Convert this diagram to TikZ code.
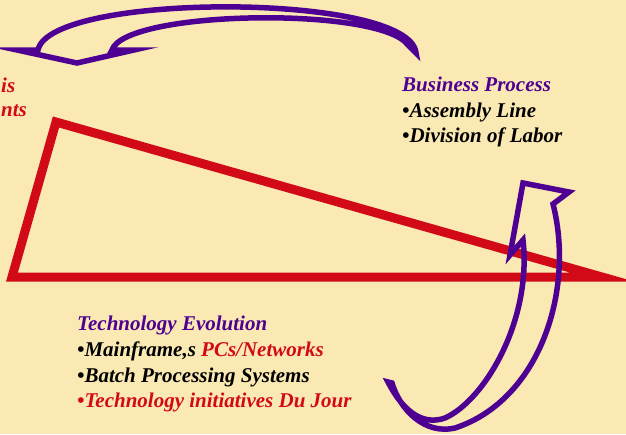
\documentclass[tikz,border=0pt]{standalone}
\usepackage{fontspec}
\setmainfont{Liberation Serif}
\usepackage{tikz}
\usepackage{xcolor}

\definecolor{paper}{RGB}{251,233,180}
\definecolor{wedgered}{RGB}{210,10,24}
\definecolor{arrowpurple}{RGB}{78,0,146}

\begin{document}
\begin{tikzpicture}[x=1pt, y=-1pt,
    wedge/.style={draw=wedgered, line width=9pt, line join=miter},
    curvarrow/.style={draw=arrowpurple, line width=5.5pt, line join=miter},
    txt/.style={anchor=base west, inner sep=0pt, font=\fontsize{21}{25}\selectfont\bfseries\itshape}]
    % Fill the background
    \fill[paper] (0,0) rectangle (626,434);
    \useasboundingbox (0,0) rectangle (626,434);

    % Draw the red wedge
    \draw[wedge] (56,122) -- (12,277) -- (602,277) -- cycle;

    % Draw the top block arrow
    \draw[curvarrow] (416,53) .. controls (410,-8) and (50,-8) .. (38,50)
        -- (17,50) -- (77,63) -- (134,50) -- (112,50)
        .. controls (125,10) and (380,6) .. (408,45) -- cycle;

    % Draw the rising block arrow
    \draw[curvarrow] (388,382) .. controls (405,415) and (425,425) .. (445,418)
        .. controls (485,400) and (532,320) .. (523,240)
        -- (510,255) -- (523,183) -- (569,192) -- (553,204)
        .. controls (575,290) and (540,400) .. (455,428)
        .. controls (425,435) and (400,410) .. (392,383) -- cycle;

    % Add the short labels at the left edge
    \node[txt, text=wedgered] (cutone) at (1,92) {is};
    \node[txt, text=wedgered] (cuttwo) at (1,116) {nts};

    % Add the business labels
    \node[txt, text=arrowpurple] (bizhead) at (402,91) {Business Process};
    \node[txt] (bizone) at (402,117) {•Assembly Line};
    \node[txt] (biztwo) at (402,142) {•Division of Labor};

    % Add the technology labels
    \node[txt, text=arrowpurple] (techhead) at (77,330) {Technology Evolution};
    \node[txt] (techone) at (77,356) {•Mainframe,s \textcolor{wedgered}{PCs/Networks}};
    \node[txt] (techtwo) at (77,382) {•Batch Processing Systems};
    \node[txt, text=wedgered] (techthree) at (77,407) {•Technology initiatives Du Jour};
\end{tikzpicture}
\end{document}
